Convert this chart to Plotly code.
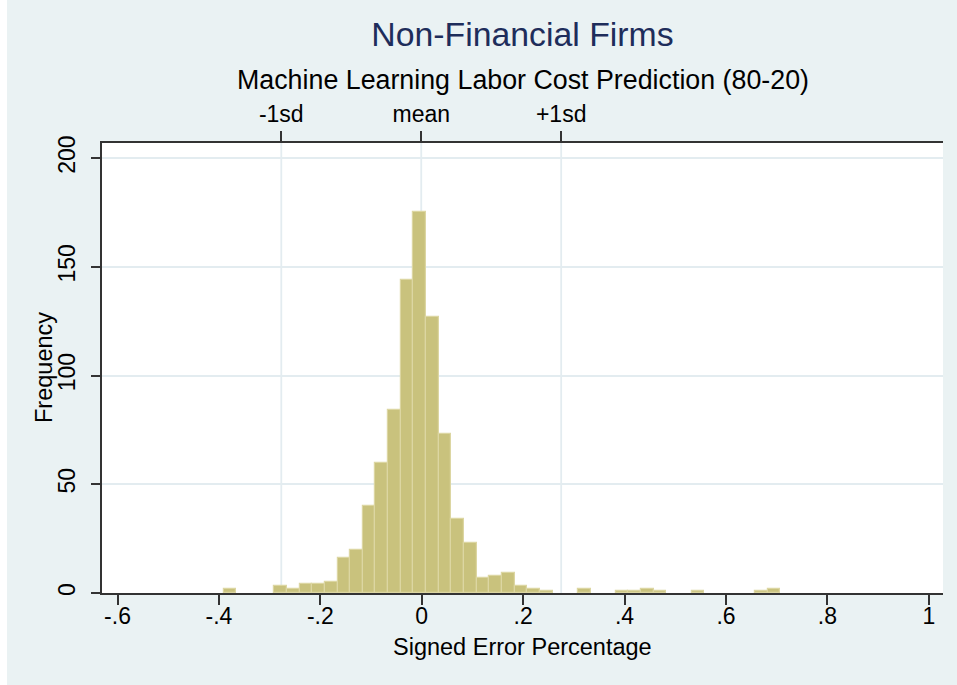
import plotly.graph_objects as go

# ---- data ----
bin_start = -0.3907      # left edge of first bin
bin_width = 0.02495      # histogram bin width
counts = [2, 0, 0, 0, 3, 2, 4, 4, 5, 16, 20, 40, 60, 84, 144, 175, 127, 73, 34, 23,
          7, 8, 9, 3, 2, 1, 0, 0, 2, 0, 0, 1, 1, 2, 1, 0, 0, 1, 0, 0, 0, 0, 1, 2]
mean_val = -0.001
sd_val = 0.276
x_ticks = [-0.6, -0.4, -0.2, 0, 0.2, 0.4, 0.6, 0.8, 1.0]
x_ticktext = ["-.6", "-.4", "-.2", "0", ".2", ".4", ".6", ".8", "1"]
y_ticks = [0, 50, 100, 150, 200]
top_labels = ["-1sd", "mean", "+1sd"]

centers = [bin_start + (i + 0.5) * bin_width for i in range(len(counts))]
ref_lines = [mean_val - sd_val, mean_val, mean_val + sd_val]
outline_w = [1.2 if c > 0 else 0 for c in counts]

FONT = "Liberation Sans, Arial, sans-serif"
BG = "#EAF2F3"
GRID = "#E3ECF0"

fig = go.Figure()
fig.add_trace(go.Bar(
    x=centers, y=counts, width=bin_width,
    marker=dict(color="#C9C27D", line=dict(color="#DCD6A2", width=outline_w)),
    showlegend=False, hoverinfo="x+y",
))
# invisible trace to activate top axis
fig.add_trace(go.Scatter(x=ref_lines, y=[0, 0, 0], xaxis="x2", mode="markers",
                         marker=dict(opacity=0), showlegend=False, hoverinfo="skip"))

for xv in ref_lines:
    fig.add_shape(type="line", x0=xv, x1=xv, y0=0, y1=1, xref="x", yref="paper",
                  line=dict(color=GRID, width=1.8), layer="below")

W, H = 957, 685
ml, mr, mt, mb = 102, 14, 143, 92
pw = W - ml - mr
ph = H - mt - mb

# white strip on the far left of the image
fig.add_shape(type="rect", xref="paper", yref="paper",
              x0=-ml / pw, x1=-(ml - 7) / pw, y0=-mb / ph, y1=1 + mt / ph,
              fillcolor="white", line=dict(width=0), layer="below")

xr = [-0.6306, 1.028]
fig.update_layout(
    width=W, height=H,
    margin=dict(l=ml, r=mr, t=mt, b=mb, autoexpand=False),
    paper_bgcolor=BG, plot_bgcolor="white",
    font=dict(family=FONT, color="black", size=23),
    bargap=0,
    title=dict(text="Non-Financial Firms", x=(ml + pw / 2) / W, xanchor="center",
               y=1 - 34 / H, yanchor="middle", yref="container",
               font=dict(family=FONT, size=33.8, color="#1E2D5B")),
    xaxis=dict(range=xr, tickvals=x_ticks, ticktext=x_ticktext, ticks="outside",
               ticklen=10, tickwidth=1.5, tickcolor="#333", showline=True,
               linecolor="#333", linewidth=1.5, showgrid=False, zeroline=False,
               ticklabelstandoff=-8, tickfont=dict(size=23)),
    xaxis2=dict(range=xr, overlaying="x", side="top", tickvals=ref_lines,
                ticktext=top_labels, ticks="outside", ticklen=10, tickwidth=1.5,
                tickcolor="#333", showline=True, linecolor="#333", linewidth=1.5,
                showgrid=False, zeroline=False, tickfont=dict(size=23)),
    yaxis=dict(range=[0, 206.9], tickvals=y_ticks, ticks="outside", ticklen=9,
               tickwidth=1.5, tickcolor="#333", tickangle=-90, showline=True,
               linecolor="#333", linewidth=1.5, showgrid=True, gridcolor=GRID,
               gridwidth=1.8, zeroline=False, ticklabelstandoff=7,
               tickfont=dict(size=23)),
    annotations=[
        dict(text="Machine Learning Labor Cost Prediction (80-20)",
             x=0.5, xref="paper", y=1 + (mt - 80) / ph, yref="paper",
             xanchor="center", yanchor="middle", showarrow=False,
             font=dict(family=FONT, size=26.8, color="black")),
        dict(text="Signed Error Percentage", x=0.5, xref="paper",
             y=-(647 - (H - mb)) / ph, yref="paper", xanchor="center",
             yanchor="middle", showarrow=False,
             font=dict(family=FONT, size=23.5, color="black")),
        dict(text="Frequency", x=-(ml - 44) / pw, xref="paper",
             y=0.5, yref="paper", xanchor="center", yanchor="middle",
             textangle=-90, showarrow=False,
             font=dict(family=FONT, size=23.5, color="black")),
    ],
)

fig.write_html("out.html", config={"displayModeBar": False},
               post_script="document.body.style.margin='0';document.body.style.padding='0';")
